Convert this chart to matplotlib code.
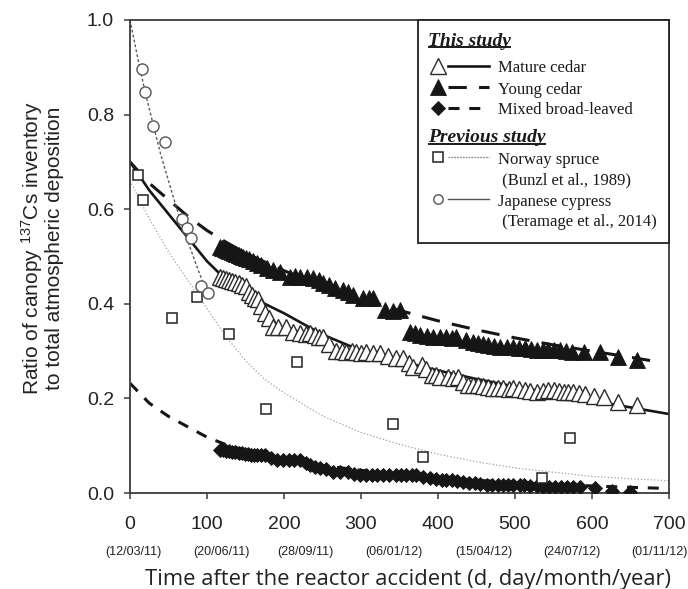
import matplotlib
matplotlib.use("Agg")
import matplotlib.pyplot as plt
from matplotlib.lines import Line2D
from matplotlib.legend_handler import HandlerBase
from matplotlib.transforms import IdentityTransform

# ---------------- data ----------------
# Mature cedar (open triangles)
mature_days = [117, 121, 125, 129, 133, 137, 141, 145, 150, 154, 158, 162, 166, 170, 175, 180,
               186, 192, 203, 212, 221, 229, 234, 240, 245, 251, 259, 268, 275, 281, 288, 294,
               300, 307, 316, 325, 335, 345, 355, 362, 368, 379, 385, 392, 398, 403, 413, 419,
               426, 432, 439, 446, 452, 458, 465, 472, 478, 485, 492, 498, 505, 513, 520, 528,
               537, 543, 550, 557, 563, 569, 575, 583, 591, 603, 615, 634, 658]
mature_vals = [0.457, 0.455, 0.452, 0.450, 0.448, 0.446, 0.444, 0.440, 0.437, 0.425, 0.418, 0.412,
               0.410, 0.395, 0.380, 0.370, 0.352, 0.350, 0.350, 0.340, 0.338, 0.336, 0.338, 0.334,
               0.330, 0.330, 0.315, 0.300, 0.300, 0.298, 0.300, 0.298, 0.296, 0.298, 0.297, 0.295,
               0.290, 0.285, 0.285, 0.275, 0.266, 0.270, 0.262, 0.250, 0.250, 0.245, 0.245, 0.243,
               0.245, 0.235, 0.228, 0.228, 0.228, 0.226, 0.224, 0.223, 0.222, 0.222, 0.220, 0.222,
               0.220, 0.218, 0.216, 0.214, 0.216, 0.217, 0.218, 0.216, 0.214, 0.214, 0.214, 0.212,
               0.210, 0.206, 0.203, 0.192, 0.186]

# Young cedar (filled triangles)
young_days = [117, 120, 123, 126, 129, 132, 135, 138, 141, 144, 147, 151, 155, 160, 165, 170,
              178, 186, 195, 208, 214, 221, 230, 238, 245, 251, 258, 266, 276, 283, 290, 303,
              310, 316, 331, 341, 351, 364, 370, 377, 386, 394, 403, 411, 418, 424, 437, 445,
              452, 458, 465, 473, 481, 490, 498, 505, 513, 521, 528, 536, 543, 551, 558, 566,
              574, 589, 610, 634, 658]
young_vals = [0.520, 0.518, 0.516, 0.514, 0.512, 0.510, 0.508, 0.506, 0.504, 0.502, 0.500, 0.497,
              0.494, 0.490, 0.486, 0.482, 0.476, 0.472, 0.467, 0.457, 0.458, 0.457, 0.456, 0.455,
              0.450, 0.444, 0.440, 0.433, 0.430, 0.425, 0.419, 0.412, 0.413, 0.412, 0.387, 0.385,
              0.387, 0.340, 0.338, 0.333, 0.332, 0.330, 0.330, 0.330, 0.328, 0.330, 0.323, 0.320,
              0.317, 0.315, 0.313, 0.310, 0.309, 0.308, 0.309, 0.307, 0.307, 0.304, 0.302, 0.302,
              0.302, 0.302, 0.302, 0.300, 0.298, 0.298, 0.298, 0.288, 0.281]

# Mixed broad-leaved (filled diamonds)
mixed_days = [117, 121, 125, 129, 133, 137, 141, 145, 149, 153, 157, 161, 165, 170, 175, 183,
              191, 199, 206, 213, 221, 228, 234, 240, 247, 255, 264, 273, 283, 291, 299, 306,
              314, 321, 329, 337, 346, 352, 359, 366, 372, 381, 390, 398, 405, 411, 418, 425,
              432, 440, 448, 455, 463, 470, 478, 485, 491, 498, 506, 512, 519, 528, 536, 544,
              552, 560, 567, 575, 584, 604, 626, 649]
mixed_vals = [0.091, 0.090, 0.089, 0.088, 0.087, 0.086, 0.085, 0.084, 0.083, 0.082, 0.081, 0.081,
              0.080, 0.080, 0.080, 0.075, 0.070, 0.070, 0.070, 0.070, 0.070, 0.063, 0.059, 0.056,
              0.053, 0.050, 0.045, 0.045, 0.045, 0.040, 0.038, 0.038, 0.038, 0.038, 0.038, 0.038,
              0.038, 0.038, 0.038, 0.038, 0.038, 0.034, 0.032, 0.030, 0.028, 0.028, 0.027, 0.025,
              0.024, 0.022, 0.021, 0.019, 0.017, 0.017, 0.017, 0.017, 0.017, 0.017, 0.017, 0.016,
              0.015, 0.014, 0.013, 0.013, 0.013, 0.013, 0.013, 0.013, 0.013, 0.011, 0.004, 0.003]

# Norway spruce (Bunzl et al., 1989) - open squares
spruce_days = [10, 17, 55, 87, 129, 176, 217, 342, 381, 535, 571]
spruce_vals = [0.672, 0.620, 0.370, 0.414, 0.336, 0.177, 0.277, 0.145, 0.077, 0.032, 0.117]

# Japanese cypress (Teramage et al., 2014) - open circles
cypress_days = [15, 19, 30, 45, 67, 74, 79, 92, 101]
cypress_vals = [0.896, 0.848, 0.776, 0.742, 0.580, 0.560, 0.540, 0.437, 0.423]

# Fitted curves
mature_fit_days = [0, 25, 50, 75, 100, 125, 150, 200, 250, 300, 350, 400, 450, 500, 550, 600, 650, 700]
mature_fit_vals = [0.700, 0.640, 0.590, 0.540, 0.490, 0.450, 0.420, 0.380, 0.335, 0.301, 0.279,
                   0.259, 0.241, 0.225, 0.210, 0.195, 0.181, 0.167]
young_fit_days = [0, 25, 50, 75, 100, 125, 150, 200, 250, 300, 350, 400, 450, 500, 550, 600, 650, 690]
young_fit_vals = [0.700, 0.655, 0.620, 0.585, 0.555, 0.530, 0.507, 0.470, 0.437, 0.410, 0.386,
                  0.364, 0.345, 0.328, 0.313, 0.300, 0.287, 0.276]
mixed_fit_days = [0, 25, 50, 75, 100, 125, 150, 200, 250, 300, 350, 400, 450, 500, 550, 600, 650, 690]
mixed_fit_vals = [0.232, 0.190, 0.162, 0.140, 0.118, 0.102, 0.090, 0.072, 0.058, 0.048, 0.040,
                  0.033, 0.027, 0.022, 0.018, 0.015, 0.012, 0.010]
spruce_fit_days = [0, 25, 50, 75, 100, 125, 150, 175, 200, 250, 300, 350, 400, 450, 500, 550, 600, 650, 700]
spruce_fit_vals = [0.660, 0.580, 0.510, 0.450, 0.390, 0.330, 0.280, 0.240, 0.212, 0.163, 0.128,
                   0.103, 0.082, 0.066, 0.053, 0.044, 0.035, 0.030, 0.026]
cypress_fit_days = [0, 10, 20, 30, 40, 50, 60, 70, 80, 90, 100, 105]
cypress_fit_vals = [1.000, 0.920, 0.845, 0.780, 0.715, 0.660, 0.605, 0.555, 0.510, 0.465, 0.425, 0.410]

x_ticks = [0, 100, 200, 300, 400, 500, 600, 700]
x_dates = ["(12/03/11)", "(20/06/11)", "(28/09/11)", "(06/01/12)",
           "(15/04/12)", "(24/07/12)", "(01/11/12)"]
x_date_pos = [4, 119, 228, 343, 460, 574, 687]
y_ticks = [0.0, 0.2, 0.4, 0.6, 0.8, 1.0]

# ---------------- style ----------------
plt.rcParams["font.family"] = ["Liberation Sans", "DejaVu Sans"]
plt.rcParams["mathtext.fontset"] = "custom"
plt.rcParams["mathtext.rm"] = "Liberation Sans"
plt.rcParams["mathtext.it"] = "Liberation Sans:italic"

SPINE = "#3a3a3a"
INK = "#161616"

fig = plt.figure(figsize=(6.88, 5.89), dpi=100)
ax = fig.add_axes([130 / 688, 96 / 589, 539 / 688, 473 / 589])

# fitted lines
l_mature, = ax.plot(mature_fit_days, mature_fit_vals, color=INK, lw=1.9, ls="-", zorder=2)
l_young, = ax.plot(young_fit_days, young_fit_vals, color=INK, lw=2.2, dashes=(6.0, 4.0), zorder=2)
l_mixed, = ax.plot(mixed_fit_days, mixed_fit_vals, color=INK, lw=2.2, dashes=(3.6, 3.2), zorder=2)
l_spruce, = ax.plot(spruce_fit_days, spruce_fit_vals, color="#a0a0a0", lw=0.9, ls=":", zorder=2)
l_cypress, = ax.plot(cypress_fit_days, cypress_fit_vals, color="#5a5a5a", lw=1.0,
                     dashes=(2.0, 1.6), zorder=2)

# data markers
m_mixed, = ax.plot(mixed_days, mixed_vals, ls="none", marker="D", ms=7.5, mfc=INK, mec=INK,
                   mew=0.6, zorder=3)
m_young, = ax.plot(young_days, young_vals, ls="none", marker="^", ms=11, mfc=INK, mec=INK,
                   mew=0.6, zorder=3)
m_mature, = ax.plot(mature_days, mature_vals, ls="none", marker="^", ms=12, mfc="white",
                    mec="#2a2a2a", mew=1.0, zorder=3)
m_spruce, = ax.plot(spruce_days, spruce_vals, ls="none", marker="s", ms=7.5, mfc="white",
                    mec="#222222", mew=1.1, zorder=4)
m_cypress, = ax.plot(cypress_days, cypress_vals, ls="none", marker="o", ms=8, mfc="white",
                     mec="#555555", mew=1.0, zorder=4)

# axes
ax.set_xlim(0, 700)
ax.set_ylim(0, 1.0)
ax.set_xticks(x_ticks)
ax.set_xticklabels([str(t) for t in x_ticks], fontsize=14)
ax.set_xticks(x_date_pos, minor=True)
ax.set_xticklabels(x_dates, minor=True, fontsize=9)
ax.set_yticks(y_ticks)
ax.set_yticklabels([f"{v:.1f}" for v in y_ticks], fontsize=14)
ax.tick_params(axis="both", which="major", direction="out", length=4.5, width=1.1,
               color=SPINE, labelcolor="#222222")
ax.tick_params(axis="x", which="major", pad=12)
ax.tick_params(axis="y", which="major", pad=7)
ax.tick_params(axis="x", which="minor", length=0, pad=38, labelcolor="#222222")
for s in ax.spines.values():
    s.set_color(SPINE)
    s.set_linewidth(1.3)

ax.set_ylabel("Ratio of canopy $^{137}$Cs inventory\nto total atmospheric deposition",
              fontsize=15, linespacing=0.95, color="#222222")
ax.yaxis.set_label_coords(-0.123, 0.517)
ax.set_xlabel("Time after the reactor accident (d, day/month/year)",
              fontsize=15.8, family=["Open Sans", "DejaVu Sans"], color="#222222")
ax.xaxis.set_label_coords(0.516, -0.160)


# ---------------- legend ----------------
class MarkerThenLine(HandlerBase):
    def create_artists(self, legend, orig_handle, xdescent, ydescent, width, height,
                       fontsize, trans):
        mk, ln, mscale = orig_handle
        y = height / 2.0 - ydescent
        x0 = -xdescent
        line = Line2D([x0 + 0.31 * width, x0 + width], [y, y])
        line.update_from(ln)
        line.set_marker("None")
        line.set_transform(trans)
        mark = Line2D([x0 + 0.14 * width], [y])
        mark.update_from(mk)
        mark.set_linestyle("None")
        mark.set_markersize(mk.get_markersize() * mscale)
        mark.set_transform(trans)
        return [line, mark]


leg_line_cypress = Line2D([], [], color="#555555", lw=1.0, ls="-")
leg_line_spruce = Line2D([], [], color="#8a8a8a", lw=0.9, dashes=(1.5, 0.8))
blank = Line2D([], [], ls="none", marker="None")

handles = [blank, blank,
           (m_mature, l_mature, 0.95),
           (m_young, l_young, 1.05),
           (m_mixed, l_mixed, 1.0),
           blank,
           blank,
           (m_spruce, leg_line_spruce, 0.95),
           blank,
           (m_cypress, leg_line_cypress, 0.85),
           blank]
labels = ["This study", " ", "Mature cedar", "Young cedar", "Mixed broad-leaved",
          " ", "Previous study", "Norway spruce", " (Bunzl et al., 1989)",
          "Japanese cypress", " (Teramage et al., 2014)"]
header_idx = [0, 6]
spacer_idx = [1, 5]

leg = ax.legend(handles, labels, loc="upper right", borderaxespad=0.0,
                handler_map={tuple: MarkerThenLine()},
                prop={"family": ["Liberation Serif", "DejaVu Serif"], "size": 12},
                frameon=True, fancybox=False, shadow=False, framealpha=1.0,
                edgecolor="#222222", borderpad=0.75, labelspacing=0.30,
                handlelength=3.5, handletextpad=0.55, handleheight=0.1)
leg.get_frame().set_linewidth(1.3)
leg.set_zorder(10)
texts = leg.get_texts()
shift_px = (3.5 + 0.55) * 12 * fig.dpi / 72.0 + 2
for i in header_idx:
    t = texts[i]
    t.set_fontsize(14)
    t.set_fontweight("bold")
    t.set_fontstyle("italic")
    t.set_x(-shift_px)
for i in spacer_idx:
    texts[i].set_fontsize(1)
for t in texts:
    t.set_color("#1a1a1a")

# shrink the handle boxes of the spacer rows so they only add a small gap
try:
    rows = leg._legend_handle_box.get_children()[0].get_children()
    for i in spacer_idx:
        da = rows[i].get_children()[0]
        da.height = 0.0
        da.ydescent = 0.0
except Exception:
    pass

fig.canvas.draw()
renderer = fig.canvas.get_renderer()
for i in header_idx:
    bb = texts[i].get_window_extent(renderer)
    fig.add_artist(Line2D([bb.x0 + 1, bb.x1 - 1], [bb.y0 + 2.5, bb.y0 + 2.5],
                          color="#1a1a1a", lw=1.4, transform=IdentityTransform(), zorder=20))

fig.savefig("out.png", dpi=100)
